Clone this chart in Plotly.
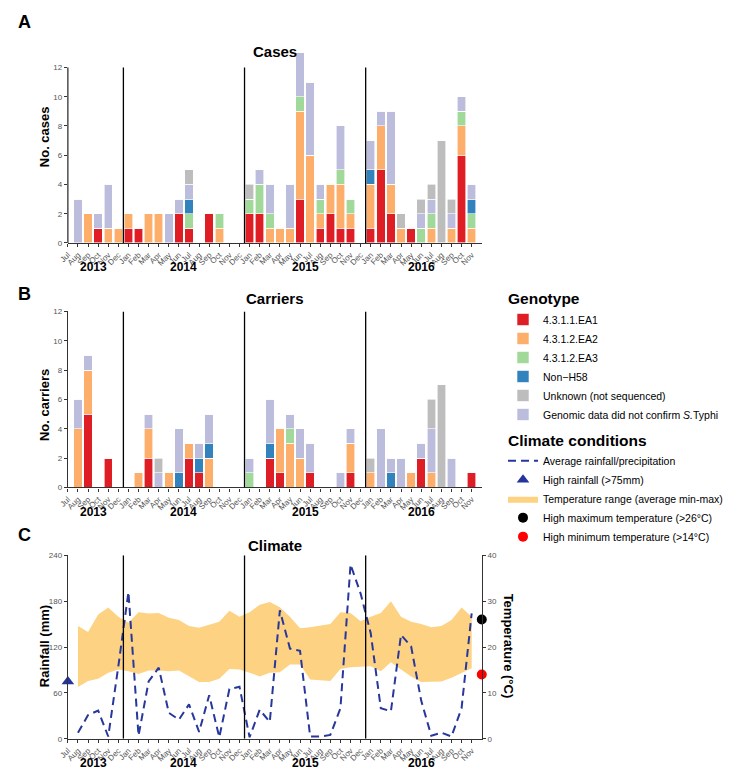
import plotly.graph_objects as go

# ---------------- DATA ----------------
month_names = (["Jul", "Aug", "Sep", "Oct", "Nov", "Dec"]
               + ["Jan", "Feb", "Mar", "Apr", "May", "Jun", "Jul", "Aug", "Sep", "Oct", "Nov", "Dec"] * 2
               + ["Jan", "Feb", "Mar", "Apr", "May", "Jun", "Jul", "Aug", "Sep", "Oct", "Nov"])
month_years = [2013] * 6 + [2014] * 12 + [2015] * 12 + [2016] * 11

genotype_names = ["4.3.1.1.EA1", "4.3.1.2.EA2", "4.3.1.2.EA3", "Non\u2212H58",
                  "Unknown (not sequenced)", "Genomic data did not confirm <i>S.</i>Typhi"]

# Cases (Jul 2013 .. Nov 2016)
cases_ea1 = [0, 0, 0, 1, 0, 0,
             1, 1, 0, 0, 0, 2, 1, 0, 2, 0, 0, 0,
             2, 2, 0, 0, 0, 3, 0, 1, 2, 1, 1, 0,
             1, 5, 2, 0, 1, 0, 0, 0, 0, 6, 0]
cases_ea2 = [0, 0, 2, 0, 1, 1,
             1, 0, 2, 2, 0, 0, 0, 0, 0, 1, 0, 0,
             0, 0, 1, 1, 1, 6, 6, 1, 2, 3, 1, 0,
             3, 3, 2, 1, 0, 0, 1, 0, 1, 2, 1]
cases_ea3 = [0, 0, 0, 0, 0, 0,
             0, 0, 0, 0, 0, 0, 1, 0, 0, 1, 0, 0,
             1, 2, 1, 0, 0, 1, 0, 1, 0, 1, 1, 0,
             0, 0, 0, 0, 0, 1, 1, 0, 0, 1, 1]
cases_nonh58 = [0, 0, 0, 0, 0, 0,
                0, 0, 0, 0, 0, 0, 1, 0, 0, 0, 0, 0,
                0, 0, 0, 0, 0, 0, 0, 0, 0, 0, 0, 0,
                1, 0, 0, 0, 0, 0, 0, 0, 0, 0, 1]
cases_unknown = [0, 0, 0, 0, 0, 0,
                 0, 0, 0, 0, 0, 0, 1, 0, 0, 0, 0, 0,
                 1, 0, 0, 0, 0, 0, 0, 0, 0, 0, 0, 0,
                 0, 0, 0, 1, 0, 1, 1, 7, 1, 0, 0]
cases_notconf = [0, 3, 0, 1, 3, 0,
                 0, 0, 0, 0, 2, 1, 1, 0, 0, 0, 0, 0,
                 0, 1, 2, 0, 3, 3, 5, 1, 0, 3, 0, 0,
                 2, 1, 5, 0, 0, 1, 1, 0, 1, 1, 1]

# Carriers
carr_ea1 = [0, 0, 5, 0, 2, 0,
            0, 0, 2, 0, 0, 0, 2, 1, 0, 0, 0, 0,
            0, 0, 2, 1, 0, 0, 1, 0, 0, 0, 1, 0,
            0, 0, 0, 0, 0, 2, 0, 0, 0, 0, 1]
carr_ea2 = [0, 4, 3, 0, 0, 0,
            0, 1, 2, 0, 1, 0, 1, 0, 2, 0, 0, 0,
            0, 0, 0, 3, 3, 2, 0, 0, 0, 0, 2, 0,
            1, 0, 0, 0, 1, 0, 1, 0, 0, 0, 0]
carr_ea3 = [0, 0, 0, 0, 0, 0,
            0, 0, 0, 0, 0, 0, 0, 0, 0, 0, 0, 0,
            1, 0, 0, 0, 1, 0, 0, 0, 0, 0, 0, 0,
            0, 0, 0, 0, 0, 0, 0, 0, 0, 0, 0]
carr_nonh58 = [0, 0, 0, 0, 0, 0,
               0, 0, 0, 0, 0, 1, 0, 1, 1, 0, 0, 0,
               0, 0, 1, 0, 0, 0, 0, 0, 0, 0, 0, 0,
               0, 0, 1, 0, 0, 0, 0, 0, 0, 0, 0]
carr_unknown = [0, 0, 0, 0, 0, 0,
                0, 0, 0, 1, 0, 0, 0, 0, 0, 0, 0, 0,
                0, 0, 0, 0, 0, 0, 0, 0, 0, 0, 0, 0,
                1, 0, 0, 0, 0, 0, 2, 7, 0, 0, 0]
carr_notconf = [0, 2, 1, 0, 0, 0,
                0, 0, 1, 1, 0, 3, 0, 1, 2, 0, 0, 0,
                1, 0, 3, 0, 1, 2, 2, 0, 0, 1, 1, 0,
                0, 4, 1, 2, 0, 1, 3, 0, 2, 0, 0]

# Climate (None = no data)
rainfall_mm = [None, 8, 31, 37, 3, 95,
               192, 4, 75, 93, 34, 25, 45, 9, 57, 2, 65, 68,
               2, 38, 22, 168, 118, 115, 3, 3, 5, 40, 228, 190,
               138, 40, 36, 136, 121, 50, 4, 8, 3, 40, 164]
temp_max = [None, 24.6, 23.3, 27.1, 28.6, 26.6,
            25.3, 27.6, 27.3, 27.4, 26.4, 25.9, 24.6, 24.2, 24.9, 25.5, 27.9, 26.6,
            27.6, 29.2, 29.8, 28.7, 26.6, 24.1, 24.3, 24.6, 25.0, 27.6, 27.4, 25.6,
            26.6, 27.4, 30.0, 26.6, 25.5, 25.0, 24.3, 24.6, 25.9, 28.6, 26.6]
temp_min = [None, 11.3, 12.6, 13.1, 14.4, 15.1,
            14.7, 14.1, 14.9, 14.9, 14.7, 14.9, 13.6, 12.4, 12.4, 13.1, 15.2, 15.1,
            14.4, 13.6, 14.4, 14.5, 16.2, 16.2, 12.9, 12.7, 12.6, 15.2, 15.6, 15.7,
            15.8, 14.7, 16.7, 15.1, 13.6, 12.4, 12.5, 12.5, 13.3, 14.4, 15.4]
high_rainfall_threshold = 75
high_tmax_threshold = 26
high_tmin_threshold = 14

# ---------------- STYLE ----------------
FONT = "Liberation Sans, Arial, Helvetica, sans-serif"
geno_colors = ["#DE1D24", "#FDAE6B", "#A1D99B", "#3182BD", "#BDBDBD", "#BCBDDC"]
stack_order = [0, 1, 2, 3, 5, 4]  # bottom -> top
band_color = "#FDD282"
rain_color = "#27379B"
TICK_GRAY = "#555555"
AXIS_COL = "#333333"

W, H = 738, 777
OFF = 8  # page body margin offset (screen px)
XL, XR = 59.5, 478.5


def py(pix):
    return 1 - (pix - OFF) / H


def px(pix):
    return (pix - OFF) / W


x_idx = list(range(len(month_names)))
x_max = len(month_names)
sep_x = [i - 0.5 for i in x_idx if month_names[i] == "Jan"]
years = sorted(set(month_years))
year_pos = [sum(i for i in x_idx if month_years[i] == y) / month_years.count(y) for y in years]

cases = [cases_ea1, cases_ea2, cases_ea3, cases_nonh58, cases_unknown, cases_notconf]
carriers = [carr_ea1, carr_ea2, carr_ea3, carr_nonh58, carr_unknown, carr_notconf]

fig = go.Figure()

for k in stack_order:
    fig.add_trace(go.Bar(
        x=x_idx, y=cases[k], name=genotype_names[k],
        marker=dict(color=geno_colors[k], line=dict(color="white", width=0.6)),
        width=0.84, xaxis="x", yaxis="y", legendgroup="geno", legendrank=k + 1,
        legendgrouptitle=dict(text="<b>Genotype</b>", font=dict(size=15.5, color="black")),
        showlegend=True))
for k in stack_order:
    fig.add_trace(go.Bar(
        x=x_idx, y=carriers[k], name=genotype_names[k],
        marker=dict(color=geno_colors[k], line=dict(color="white", width=0.6)),
        width=0.84, xaxis="x2", yaxis="y2", legendgroup="geno", showlegend=False))

# climate
cx = [i for i in x_idx if temp_min[i] is not None]
fig.add_trace(go.Scatter(x=cx, y=[temp_min[i] for i in cx], mode="lines", line=dict(width=0, color=band_color),
                         xaxis="x3", yaxis="y3", showlegend=False, hoverinfo="skip"))
fig.add_trace(go.Scatter(x=cx, y=[temp_max[i] for i in cx], mode="lines", line=dict(width=0, color=band_color),
                         fill="tonexty", fillcolor=band_color, xaxis="x3", yaxis="y3",
                         name="Temperature range (average min-max)", legendgroup="clim", legendrank=13))
fig.add_trace(go.Scatter(x=[x_max], y=[high_tmax_threshold], mode="markers", marker=dict(color="black", size=10),
                         xaxis="x3", yaxis="y3", cliponaxis=False, name="High maximum temperature (>26°C)",
                         legendgroup="clim", legendrank=14))
fig.add_trace(go.Scatter(x=[x_max], y=[high_tmin_threshold], mode="markers", marker=dict(color="#FF0000", size=10),
                         xaxis="x3", yaxis="y3", cliponaxis=False, name="High minimum temperature (>14°C)",
                         legendgroup="clim", legendrank=15))
rx = [i for i in x_idx if rainfall_mm[i] is not None]
fig.add_trace(go.Scatter(x=rx, y=[rainfall_mm[i] for i in rx], mode="lines",
                         line=dict(color=rain_color, width=2, dash="8px,5px"),
                         xaxis="x3", yaxis="y4", name="Average rainfall/precipitation",
                         legendgroup="clim", legendrank=11,
                         legendgrouptitle=dict(text="<b>Climate conditions</b>", font=dict(size=15.5, color="black"))))
fig.add_trace(go.Scatter(x=[0], y=[high_rainfall_threshold], mode="markers",
                         marker=dict(color="#23349A", size=11, symbol="triangle-up"),
                         xaxis="x3", yaxis="y4", cliponaxis=False, name="High rainfall (>75mm)",
                         legendgroup="clim", legendrank=12))

xdom = [px(XL), px(XR)]
xcommon = dict(domain=xdom, range=[0, x_max], tickvals=x_idx, ticktext=month_names, tickangle=-45,
               tickfont=dict(size=8, color=TICK_GRAY, family=FONT), ticks="outside", ticklen=3,
               tickcolor=AXIS_COL, showline=True, linecolor=AXIS_COL, linewidth=1.3, showgrid=False,
               zeroline=False, fixedrange=True)
ycommon = dict(tickfont=dict(size=8, color=TICK_GRAY, family=FONT), ticks="outside", ticklen=3,
               tickcolor=AXIS_COL, showgrid=False, zeroline=False, linecolor=AXIS_COL, linewidth=1.3)

fig.update_layout(
    width=W, height=H, margin=dict(l=0, r=0, t=0, b=0),
    paper_bgcolor="white", plot_bgcolor="white",
    font=dict(family=FONT, color="black"),
    barmode="stack", bargap=0.16,
    xaxis=dict(anchor="y", **xcommon),
    xaxis2=dict(anchor="y2", **xcommon),
    xaxis3=dict(anchor="y3", **xcommon),
    yaxis=dict(domain=[py(241.7), py(241.7 - 13.2 * 14.8)], range=[0, 13.2], tickvals=list(range(0, 13, 2)),
               anchor="x", showline=False, **ycommon),
    yaxis2=dict(domain=[py(489), py(311)], range=[0, 12], tickvals=list(range(0, 13, 2)),
                anchor="x2", showline=True, **ycommon),
    yaxis3=dict(domain=[py(743.3), py(557.7)], range=[0, 40], tickvals=[0, 10, 20, 30, 40],
                anchor="x3", side="right", showline=True, **ycommon),
    yaxis4=dict(range=[0, 240], tickvals=[0, 60, 120, 180, 240], overlaying="y3", anchor="x3",
                side="left", showline=True, **ycommon),
    legend=dict(x=px(500), y=py(281), xanchor="left", yanchor="top", traceorder="grouped",
                font=dict(size=10.5, family=FONT, color="black"), tracegroupgap=4,
                bgcolor="rgba(0,0,0,0)", itemwidth=30),
    showlegend=True,
)

shapes = []
for sx in sep_x:
    shapes.append(dict(type="line", xref="x", yref="y", x0=sx, x1=sx, y0=0, y1=12,
                       line=dict(color="black", width=1.3), layer="above"))
    shapes.append(dict(type="line", xref="x2", yref="y2", x0=sx, x1=sx, y0=0, y1=12,
                       line=dict(color="black", width=1.3), layer="above"))
    shapes.append(dict(type="line", xref="x3", yref="y4", x0=sx, x1=sx, y0=0, y1=240,
                       line=dict(color="black", width=1.3), layer="above"))
# cases y-axis line (only up to the last tick)
shapes.append(dict(type="line", xref="x domain", yref="y", x0=0, x1=0, y0=0, y1=12,
                   line=dict(color=AXIS_COL, width=1.3), layer="above"))
fig.update_layout(shapes=shapes)

ann = []
for lab, yy in [("A", 18), ("B", 293), ("C", 537)]:
    ann.append(dict(text=f"<b>{lab}</b>", x=px(16), y=py(yy), xref="paper", yref="paper",
                    showarrow=False, font=dict(size=18, color="black"), xanchor="center", yanchor="middle"))
for lab, yy in [("Cases", 48), ("Carriers", 298), ("Climate", 548)]:
    ann.append(dict(text=f"<b>{lab}</b>", x=px(269), y=py(yy), xref="paper", yref="paper",
                    showarrow=False, font=dict(size=15, color="black"), xanchor="center", yanchor="middle"))
for lab, xx, yy, ang in [("No. cases", 36, 134, -90), ("No. carriers", 36, 406, -90),
                         ("Rainfall (mm)", 36, 650, -90), ("Temperature (°C)", 506, 650, 90)]:
    ann.append(dict(text=f"<b>{lab}</b>", x=px(xx), y=py(yy), xref="paper", yref="paper", textangle=ang,
                    showarrow=False, font=dict(size=13, color="black"), xanchor="center", yanchor="middle"))
for xa, yy in [("x", 266), ("x2", 514), ("x3", 768)]:
    for yr, pos in zip(years, year_pos):
        ann.append(dict(text=f"<b>{yr}</b>", x=pos, y=py(yy), xref=xa, yref="paper", showarrow=False,
                        font=dict(size=12, color="black"), xanchor="center", yanchor="middle"))
fig.update_layout(annotations=ann)

fig.write_html("out.html")
